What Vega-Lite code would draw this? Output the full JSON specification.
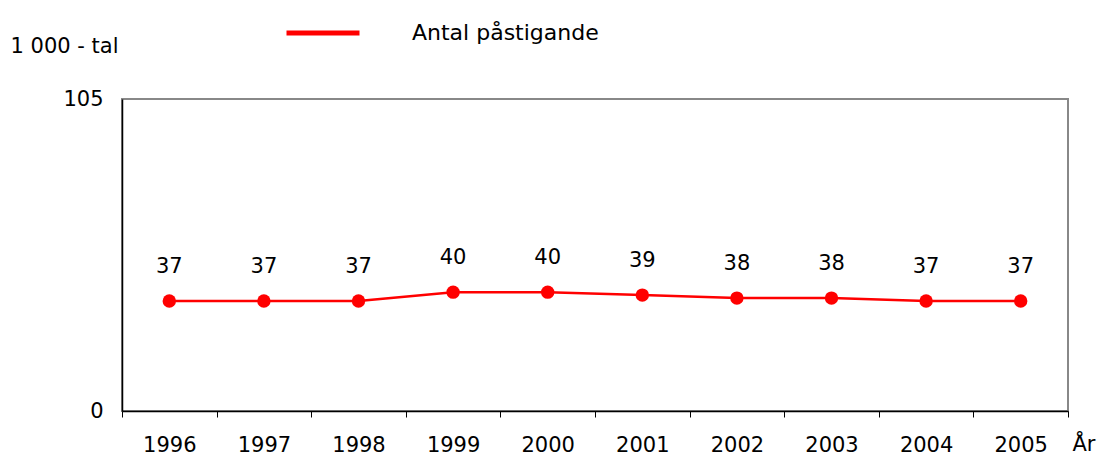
{
  "$schema": "https://vega.github.io/schema/vega-lite/v6.json",
  "width": 946,
  "height": 312,
  "autosize": "none",
  "padding": {"left": 122, "top": 99, "right": 30, "bottom": 46},
  "background": "white",
  "config": {
    "font": "DejaVu Sans",
    "view": {"stroke": "#888888", "strokeWidth": 2},
    "axis": {"grid": false}
  },
  "data": {
    "values": [
      {"year": "1996", "value": 37, "series": "Antal påstigande"},
      {"year": "1997", "value": 37, "series": "Antal påstigande"},
      {"year": "1998", "value": 37, "series": "Antal påstigande"},
      {"year": "1999", "value": 40, "series": "Antal påstigande"},
      {"year": "2000", "value": 40, "series": "Antal påstigande"},
      {"year": "2001", "value": 39, "series": "Antal påstigande"},
      {"year": "2002", "value": 38, "series": "Antal påstigande"},
      {"year": "2003", "value": 38, "series": "Antal påstigande"},
      {"year": "2004", "value": 37, "series": "Antal påstigande"},
      {"year": "2005", "value": 37, "series": "Antal påstigande"}
    ]
  },
  "encoding": {
    "x": {
      "field": "year",
      "type": "ordinal",
      "scale": {"type": "band", "paddingInner": 0, "paddingOuter": 0},
      "axis": {
        "title": "År",
        "titleAngle": 0,
        "titleX": 950,
        "titleY": 33,
        "titleAlign": "left",
        "titleBaseline": "middle",
        "titleFontSize": 21,
        "titleFontWeight": "normal",
        "titleColor": "#000000",
        "labelAngle": 0,
        "labelFontSize": 21,
        "labelColor": "#000000",
        "labelPadding": 17,
        "tickBand": "extent",
        "tickSize": 6,
        "tickColor": "#000000",
        "domainColor": "#000000",
        "domainWidth": 1.5
      }
    },
    "y": {
      "field": "value",
      "type": "quantitative",
      "scale": {"domain": [0, 105], "nice": false},
      "axis": {
        "values": [0, 105],
        "title": "1 000 - tal",
        "titleAngle": 0,
        "titleX": -112,
        "titleY": -53,
        "titleAlign": "left",
        "titleBaseline": "middle",
        "titleFontSize": 21,
        "titleFontWeight": "normal",
        "titleColor": "#000000",
        "labelFontSize": 21,
        "labelColor": "#000000",
        "labelPadding": 19,
        "ticks": false,
        "domainColor": "#000000",
        "domainWidth": 1.5
      }
    }
  },
  "layer": [
    {
      "mark": {"type": "line", "strokeWidth": 2.5},
      "encoding": {
        "color": {
          "field": "series",
          "type": "nominal",
          "scale": {"range": ["#ff0000"]},
          "legend": {
            "title": null,
            "orient": "none",
            "legendX": 162,
            "legendY": -105,
            "padding": 0,
            "symbolType": "stroke",
            "symbolSize": 5329,
            "symbolStrokeWidth": 5,
            "labelFontSize": 22,
            "labelColor": "#000000",
            "labelOffset": 50,
            "labelLimit": 400
          }
        }
      }
    },
    {
      "mark": {"type": "point", "shape": "circle", "filled": true, "opacity": 1, "size": 180, "color": "#ff0000"}
    },
    {
      "mark": {"type": "text", "dy": -34, "fontSize": 21, "color": "#000000", "baseline": "middle"},
      "encoding": {"text": {"field": "value", "type": "quantitative"}}
    }
  ]
}
